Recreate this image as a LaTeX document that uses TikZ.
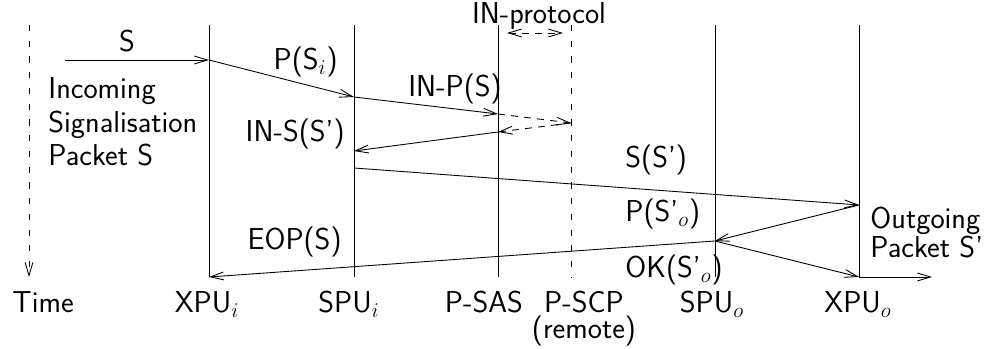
\documentclass[tikz,border=0pt]{standalone}
\usepackage{fontspec}
\usetikzlibrary{arrows.meta, positioning}

\begin{document}
\begin{tikzpicture}[
    x=0.0201cm, y=-0.0201cm,
    line width=0.5pt,
    remote/.style={dash pattern=on 3.5pt off 5.5pt},
    msg/.style={-{Straight Barb[length=7.5pt, width=4.5pt]}},
    proto/.style={msg, dash pattern=on 4pt off 3.5pt},
    both/.style={{Straight Barb[length=7.5pt, width=4.5pt]}-{Straight Barb[length=7.5pt, width=4.5pt]},
                 dash pattern=on 4pt off 3.5pt},
    lbl/.style={font=\LARGE\sffamily, inner sep=0pt},
    stack/.style={lbl, align=left, font=\fontsize{17.28}{19.4}\selectfont\sffamily},
    tight/.style={lbl, font=\fontsize{17.28}{14.9}\selectfont\sffamily}
]
\useasboundingbox (0,0) rectangle (993,349);

% Zeitachse
\coordinate (t-t) at (29,25);
\coordinate (t-b) at (29,277);
\draw[remote, msg] (t-t) -- (t-b);

% Lebenslinien
\foreach \n/\x in {xi/209, si/354, sas/498, so/715, xo/859} {
    \coordinate (\n-t) at (\x,25);
    \coordinate (\n-b) at (\x,277);
    \draw (\n-t) -- (\n-b);
}
\coordinate (scp-t) at (571,25);
\coordinate (scp-b) at (571,277);
\draw[remote] (scp-t) -- (scp-b);

% Nachrichtenpunkte
\coordinate (in) at (65,60);
\coordinate (xi-1) at (209,60);
\coordinate (si-1) at (354,97);
\coordinate (sas-1) at (498,114);
\coordinate (scp-1) at (571,123);
\coordinate (sas-2) at (498,132);
\coordinate (si-2) at (354,151);
\coordinate (si-3) at (354,168);
\coordinate (xo-1) at (859,205);
\coordinate (so-1) at (715,241);
\coordinate (xo-2) at (859,277);
\coordinate (xi-2) at (209,277);
\coordinate (out) at (932,277);
\coordinate (pr-l) at (507,33);
\coordinate (pr-r) at (563,33);

% Nachrichten
\draw[msg] (in) -- (xi-1);
\draw[msg] (xi-1) -- (si-1);
\draw[msg] (si-1) -- (sas-1);
\draw[proto] (sas-1) -- (scp-1);
\draw[proto] (scp-1) -- (sas-2);
\draw[msg] (sas-2) -- (si-2);
\draw[msg] (si-3) -- (xo-1);
\draw[msg] (xo-1) -- (so-1);
\draw[msg] (so-1) -- (xo-2);
\draw[msg] (so-1) -- (xi-2);
\draw[msg] (xo-2) -- (out);
\draw[both] (pr-l) -- (pr-r);

% Beschriftungen
\node[lbl, anchor=base] (l-s) at (127,52) {S};
\node[stack, anchor=base west] (l-inc) at (48,166) {Incoming\\Signalisation\\Packet S};
\node[lbl, anchor=base east] (l-psi) at (338,70) {P(S$_i$)};
\node[lbl, anchor=base] (l-inp) at (455,97) {IN-P(S)};
\node[lbl, anchor=base] (l-prot) at (539,24) {IN-protocol};
\node[lbl, anchor=base east] (l-ins) at (345,142) {IN-S(S')};
\node[lbl, anchor=base west] (l-ss) at (625,168) {S(S')};
\node[lbl, anchor=base west] (l-pso) at (625,222) {P(S'$_o$)};
\node[lbl, anchor=base west] (l-okso) at (625,278) {OK(S'$_o$)};
\node[lbl, anchor=base east] (l-eop) at (342,250) {EOP(S)};
\node[tight, align=left, anchor=base west] (l-out) at (870,258) {Outgoing\\Packet S'};

% Achsenbeschriftungen
\node[lbl, anchor=base west] (l-time) at (12,313) {Time};
\node[lbl, anchor=base] (l-xi) at (207,313) {XPU$_i$};
\node[lbl, anchor=base] (l-si) at (349,313) {SPU$_i$};
\node[lbl, anchor=base] (l-sas) at (484,313) {P-SAS};
\node[tight, align=center, anchor=base] (l-scp) at (584,339) {P-SCP\\(remote)};
\node[lbl, anchor=base] (l-so) at (712,313) {SPU$_o$};
\node[lbl, anchor=base] (l-xo) at (858,313) {XPU$_o$};

\end{tikzpicture}
\end{document}
